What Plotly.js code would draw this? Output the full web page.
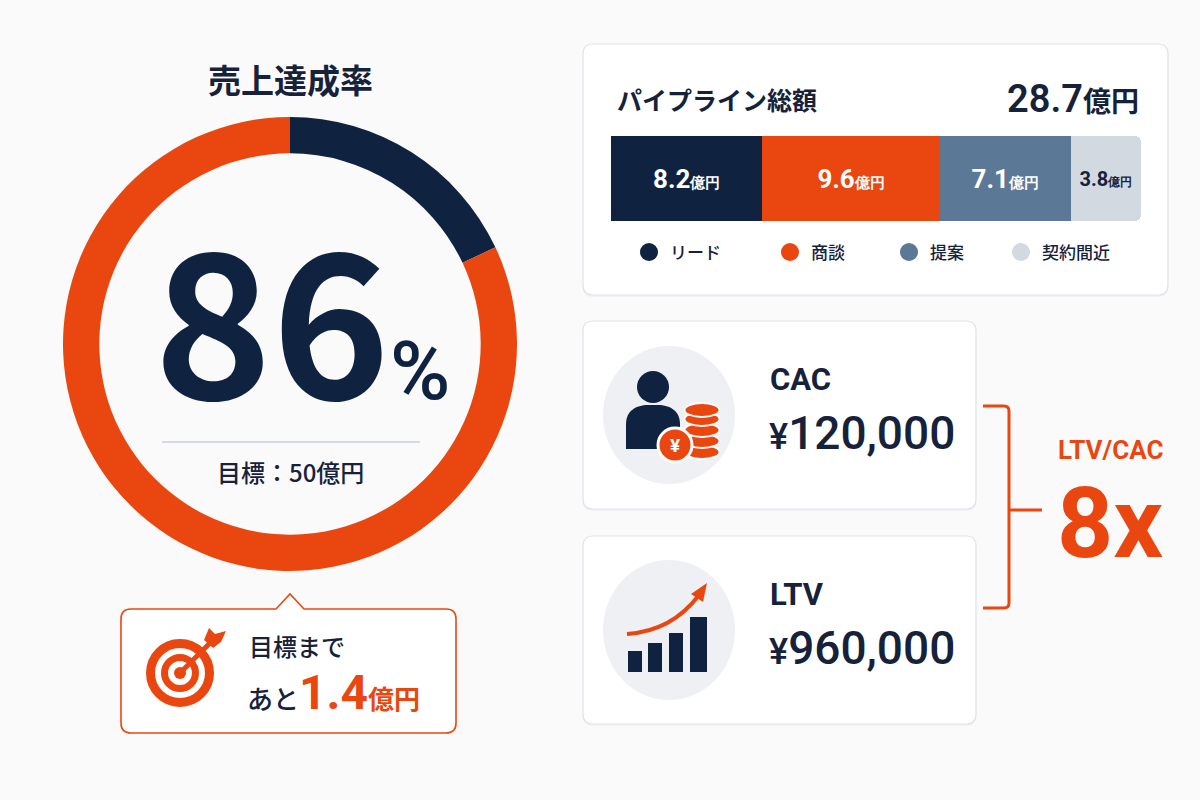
<!DOCTYPE html>
<html><head><meta charset="utf-8">
<script src="https://cdn.plot.ly/plotly-3.0.1.min.js"></script>
<style>html,body{margin:0;padding:0;background:#fafafb;} #chart{width:1200px;height:800px;}</style>
</head><body><div id="chart"></div>
<script>
// ---------- data ----------
const achievementTitle = '売上達成率';
const achievementRate = 86;
const donutLabels = ['残り', '達成'];
const donutValues = [18, 82];
const salesTarget = 50;
const gapToTarget = 1.4;
const pipelineTitle = 'パイプライン総額';
const pipelineTotal = 28.7;
const stageNames = ['リード', '商談', '提案', '契約間近'];
const stageValues = [8.2, 9.6, 7.1, 3.8];
const metricNames = ['CAC', 'LTV'];
const metricValues = [120000, 960000];
const ratioLabel = 'LTV/CAC';

// ---------- styles ----------
const NAVY = '#0f2341', ORANGE = '#ea4710', STEEL = '#5b7897', LIGHT = '#d3d9e1';
const TEXT = '#16213a', BG = '#fafafb', ICONBG = '#eef0f3', BORDER = '#dfe3e9';
const stageColors = [NAVY, ORANGE, STEEL, LIGHT];
const stageTextColors = ['#ffffff', '#ffffff', '#ffffff', TEXT];
const JP = '"Noto Sans CJK JP", "Noto Sans", sans-serif';
const NUM = 'Roboto, "Noto Sans", sans-serif';

const W = 1200, H = 800;
const fx = x => x / W, fy = y => 1 - y / H;
const pt = (x, y) => fx(x).toFixed(5) + ',' + fy(y).toFixed(5);
function rrect(x0, y0, x1, y1, r) {
  return `M${pt(x0 + r, y0)} L${pt(x1 - r, y0)} Q${pt(x1, y0)} ${pt(x1, y0 + r)} L${pt(x1, y1 - r)} Q${pt(x1, y1)} ${pt(x1 - r, y1)} L${pt(x0 + r, y1)} Q${pt(x0, y1)} ${pt(x0, y1 - r)} L${pt(x0, y0 + r)} Q${pt(x0, y0)} ${pt(x0 + r, y0)} Z`;
}
const shapes = [];
function pathS(d, fill, lc, lw, layer) {
  shapes.push({type: 'path', xref: 'paper', yref: 'paper', path: d, fillcolor: fill || 'rgba(0,0,0,0)',
    line: {color: lc || 'rgba(0,0,0,0)', width: lw || 0}, layer: layer || 'above'});
}
function ell(cx, cy, rx, ry, fill, lc, lw, layer) {
  shapes.push({type: 'circle', xref: 'paper', yref: 'paper', x0: fx(cx - rx), x1: fx(cx + rx), y0: fy(cy + ry), y1: fy(cy - ry),
    fillcolor: fill || 'rgba(0,0,0,0)', line: {color: lc || 'rgba(0,0,0,0)', width: lw || 0}, layer: layer || 'above'});
}
function lineS(x0, y0, x1, y1, c, w, layer) {
  shapes.push({type: 'line', xref: 'paper', yref: 'paper', x0: fx(x0), x1: fx(x1), y0: fy(y0), y1: fy(y1),
    line: {color: c, width: w}, layer: layer || 'above'});
}
const annotations = [];
function ann(text, x, y, size, color, opts) {
  annotations.push(Object.assign({xref: 'paper', yref: 'paper', x: fx(x), y: fy(y), text: text, showarrow: false,
    xanchor: 'center', yanchor: 'middle', font: {family: JP, size: size, color: color}}, opts || {}));
}

// ---------- cards / decorations ----------
// soft card shadows
pathS(rrect(583, 46, 1168, 297, 10), 'rgba(20,30,60,0.03)', null, 0, 'below');
pathS(rrect(583, 323, 976, 511, 10), 'rgba(20,30,60,0.03)', null, 0, 'below');
pathS(rrect(583, 538, 976, 726, 10), 'rgba(20,30,60,0.03)', null, 0, 'below');
// pipeline card
pathS(rrect(583, 44, 1168, 295, 10), '#ffffff', BORDER, 1.2, 'below');
// KPI cards
pathS(rrect(583, 321, 976, 509, 10), '#ffffff', BORDER, 1.2, 'below');
pathS(rrect(583, 536, 976, 724, 10), '#ffffff', BORDER, 1.2, 'below');
// divider in donut
lineS(162, 442, 420, 442, '#d6dae2', 2);
// callout box with pointer
pathS(`M${pt(131, 609)} L${pt(276, 609)} L${pt(290, 594)} L${pt(304, 609)} L${pt(446, 609)} Q${pt(456, 609)} ${pt(456, 619)} L${pt(456, 723)} Q${pt(456, 733)} ${pt(446, 733)} L${pt(131, 733)} Q${pt(121, 733)} ${pt(121, 723)} L${pt(121, 619)} Q${pt(121, 609)} ${pt(131, 609)} Z`,
  '#ffffff', ORANGE, 1.6, 'below');
// target icon
ell(180, 673, 29.5, 29.5, null, ORANGE, 9);
ell(180, 673, 15.5, 15.5, null, ORANGE, 7);
ell(180, 673, 6, 6, ORANGE);
lineS(182, 671, 211, 642, ORANGE, 5);
pathS(`M${pt(204, 640)} L${pt(209, 628)} L${pt(215, 634)} L${pt(226, 631)} L${pt(221, 642)} L${pt(213, 648)} Z`, ORANGE);

// CAC icon
ell(669, 415, 66, 69, ICONBG, null, 0, 'below');
ell(653, 387, 16, 16, NAVY);
pathS(`M${pt(626, 449)} L${pt(626, 424)} C${pt(626, 411)} ${pt(636, 405)} ${pt(648, 405)} L${pt(658, 405)} C${pt(670, 405)} ${pt(680, 411)} ${pt(680, 424)} L${pt(680, 449)} Z`, NAVY);
[452, 441, 430, 419, 410].forEach(cy => ell(702, cy, 17.5, 7, ORANGE, '#ffffff', 1.8));
ell(675, 445, 17, 17, ORANGE, '#ffffff', 3);
ann('<b>¥</b>', 675, 445, 19, '#ffffff', {font: {family: NUM, size: 19, color: '#ffffff'}});

// LTV icon
ell(669, 630, 66, 70, ICONBG, null, 0, 'below');
[[628, 642, 651], [648, 662, 643], [669, 683, 633], [690, 707, 617]].forEach(b =>
  pathS(`M${pt(b[0], 672)} L${pt(b[0], b[2])} L${pt(b[1], b[2])} L${pt(b[1], 672)} Z`, NAVY));
pathS(`M${pt(627, 634)} Q${pt(672, 631)} ${pt(699, 595)}`, null, ORANGE, 4);
pathS(`M${pt(707, 583)} L${pt(703, 602)} L${pt(691, 594)} Z`, ORANGE);

// bracket
pathS(`M${pt(983, 406)} L${pt(1004, 406)} Q${pt(1009, 406)} ${pt(1009, 411)} L${pt(1009, 603)} Q${pt(1009, 608)} ${pt(1004, 608)} L${pt(983, 608)}`, null, ORANGE, 3);
lineS(1009, 510, 1042, 510, ORANGE, 3);

// legend for pipeline
const legendX = [649, 790, 909, 1021];
stageNames.forEach((n, i) => {
  ell(legendX[i], 252, 9, 9, stageColors[i]);
  ann(n, legendX[i] + 19, 252, 17, TEXT, {xanchor: 'left', font: {family: JP, size: 17, color: TEXT, weight: 500}});
});

// ---------- texts ----------
ann(achievementTitle, 290, 79, 33, TEXT, {font: {family: JP, size: 33, color: TEXT, weight: 700}});
ann(`${achievementRate}<span style="font-size:82px;font-family:Roboto;font-weight:500">%</span>`, 152, 312, 200, NAVY,
  {xanchor: 'left', font: {family: JP, size: 200, color: NAVY, weight: 700}});
ann(`目標：${salesTarget}億円`, 290, 471, 24, TEXT, {font: {family: JP, size: 24, color: TEXT, weight: 500}});
ann('目標まで', 247, 645, 24, TEXT, {xanchor: 'left', font: {family: JP, size: 24, color: TEXT, weight: 500}});
ann(`あと<span style="color:${ORANGE};font-size:48px;font-family:Roboto"><b>${gapToTarget}</b></span><span style="color:${ORANGE}"><b>億円</b></span>`,
  245, 692, 26, TEXT, {xanchor: 'left', font: {family: JP, size: 26, color: TEXT, weight: 500}});

ann(`<b>${pipelineTitle}</b>`, 615, 99, 25, TEXT, {xanchor: 'left'});
ann(`<span style="font-family:Roboto;font-size:38px">${pipelineTotal}</span><span style="font-size:28px">億円</span>`,
  1141, 99, 28, TEXT, {xanchor: 'right', font: {family: JP, size: 28, color: TEXT, weight: 600}});

metricNames.forEach((m, i) => {
  const y0 = i === 0 ? 379 : 594;
  ann(`<b>${m}</b>`, 768, y0, 31, TEXT, {xanchor: 'left', font: {family: NUM, size: 31, color: TEXT}});
  ann(`<span style="font-size:36px">¥</span>${metricValues[i].toLocaleString('en-US')}`, 767, y0 + 54, 46, TEXT,
    {xanchor: 'left', font: {family: NUM, size: 46, color: TEXT, weight: 500}});
});
ann(`<b>${ratioLabel}</b>`, 1110, 450, 26, ORANGE, {font: {family: NUM, size: 26, color: ORANGE}});
ann(`<b>${Math.round(metricValues[1] / metricValues[0])}x</b>`, 1110, 523, 98, ORANGE, {font: {family: NUM, size: 98, color: ORANGE}});

// ---------- traces ----------
const traces = [];
traces.push({
  type: 'pie', labels: donutLabels, values: donutValues, hole: 0.84, sort: false, direction: 'clockwise', rotation: 0,
  marker: {colors: [NAVY, ORANGE], line: {width: 0}}, textinfo: 'none', hoverinfo: 'skip', showlegend: false,
  domain: {x: [fx(63), fx(517)], y: [fy(571), fy(117)]}
});
stageNames.forEach((n, i) => {
  const big = i < 3 ? 26 : 20, small = i < 3 ? 15 : 12;
  traces.push({
    type: 'bar', orientation: 'h', name: n, x: [stageValues[i]], y: [0], width: [1],
    marker: {color: stageColors[i], line: {width: 0}},
    text: [`<b>${stageValues[i].toFixed(1)}</b><span style="font-size:${small}px"><b>億円</b></span>`],
    textposition: 'inside', insidetextanchor: 'middle', textangle: 0, constraintext: 'none',
    textfont: {family: NUM, size: big, color: stageTextColors[i]},
    hoverinfo: 'skip', showlegend: false
  });
});

const layout = {
  width: W, height: H, margin: {l: 0, r: 0, t: 0, b: 0},
  paper_bgcolor: BG, plot_bgcolor: 'rgba(0,0,0,0)',
  barmode: 'stack', bargap: 0, barcornerradius: 6,
  xaxis: {domain: [fx(611), fx(1141)], range: [0, pipelineTotal], visible: false, fixedrange: true},
  yaxis: {domain: [fy(221), fy(136)], range: [-0.5, 0.5], visible: false, fixedrange: true},
  showlegend: false, hovermode: false,
  shapes: shapes, annotations: annotations
};
Plotly.newPlot('chart', traces, layout, {displayModeBar: false, staticPlot: true});
</script></body></html>
